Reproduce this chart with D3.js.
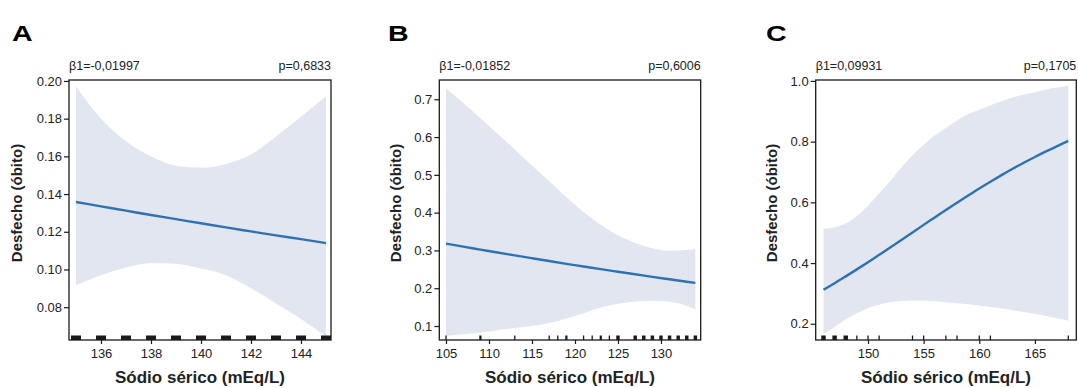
<!DOCTYPE html>
<html>
<head>
<meta charset="utf-8">
<script src="https://cdn.jsdelivr.net/npm/d3@7/dist/d3.min.js"></script>
<style>
  html, body { margin: 0; padding: 0; background: #ffffff; }
  svg { display: block; font-family: "Liberation Sans", Arial, Helvetica, sans-serif; }
</style>
</head>
<body>
<svg id="chart" width="1078" height="388"></svg>
<script>
// ---------------- DATA ----------------
const panelLetters = ["A", "B", "C"];
const betaLabels = ["β1=-0,01997", "β1=-0,01852", "β1=0,09931"];
const pLabels = ["p=0,6833", "p=0,6006", "p=0,1705"];
const xTitle = "Sódio sérico (mEq/L)";
const yTitle = "Desfecho (óbito)";

// Panel A
const sodioA = [135, 136, 137, 138, 139, 140, 141, 142, 143, 144, 145];
const fitA   = [0.1358, 0.1335, 0.1312, 0.1289, 0.1267, 0.1245, 0.1223, 0.1202, 0.1181, 0.1161, 0.1140];
const upperA = [0.197, 0.180, 0.168, 0.160, 0.155, 0.154, 0.156, 0.161, 0.1705, 0.181, 0.1917];
const lowerA = [0.0917, 0.097, 0.101, 0.1035, 0.103, 0.1005, 0.097, 0.090, 0.082, 0.0738, 0.0645];
const xTicksA = [136, 138, 140, 142, 144];
const yTicksA = [0.08, 0.10, 0.12, 0.14, 0.16, 0.18, 0.20];
const rugA = [135, 136, 137, 138, 139, 140, 141, 142, 143, 144, 145];
const rugCountA = [5, 5, 5, 5, 5, 5, 5, 5, 5, 5, 5];

// Panel B
const sodioB = [105, 107, 109, 111, 113, 115, 117, 119, 121, 123, 125, 127, 129, 131, 133, 134];
const fitB   = [0.318, 0.310, 0.3022, 0.2944, 0.2868, 0.2793, 0.2719, 0.2646, 0.2575, 0.2504, 0.2436, 0.2369, 0.2301, 0.2236, 0.2172, 0.2142];
const upperB = [0.729, 0.690, 0.650, 0.609, 0.567, 0.525, 0.483, 0.441, 0.402, 0.368, 0.340, 0.320, 0.306, 0.299, 0.301, 0.305];
const lowerB = [0.0735, 0.078, 0.083, 0.089, 0.095, 0.100, 0.108, 0.120, 0.134, 0.149, 0.159, 0.165, 0.167, 0.164, 0.153, 0.144];
const xTicksB = [105, 110, 115, 120, 125, 130];
const yTicksB = [0.1, 0.2, 0.3, 0.4, 0.5, 0.6, 0.7];
const rugB = [105, 109, 113, 117, 118, 119, 121, 122, 123, 124, 125, 127, 128, 129, 130, 131, 132, 133, 134];
const rugCountB = [1, 2, 1, 1, 1, 2, 1, 1, 2, 1, 3, 3, 3, 3, 3, 3, 3, 3, 3];

// Panel C
const sodioC = [146, 147, 148, 149, 150, 151, 152, 153, 154, 155, 156, 157, 158, 159, 160, 161, 162, 163, 164, 165, 166, 167, 168];
const fitC   = [0.312, 0.3336, 0.3562, 0.3792, 0.4027, 0.427, 0.4514, 0.476, 0.501, 0.5258, 0.5504, 0.575, 0.5988, 0.6225, 0.6457, 0.668, 0.6896, 0.7105, 0.7305, 0.7495, 0.7678, 0.785, 0.8025];
const upperC = [0.513, 0.518, 0.530, 0.555, 0.590, 0.630, 0.670, 0.715, 0.755, 0.790, 0.820, 0.845, 0.870, 0.890, 0.905, 0.920, 0.933, 0.945, 0.955, 0.963, 0.972, 0.978, 0.984];
const lowerC = [0.166, 0.190, 0.215, 0.235, 0.252, 0.263, 0.271, 0.275, 0.277, 0.276, 0.274, 0.271, 0.268, 0.264, 0.260, 0.255, 0.250, 0.245, 0.239, 0.233, 0.226, 0.218, 0.210];
const xTicksC = [150, 155, 160, 165];
const yTicksC = [0.2, 0.4, 0.6, 0.8, 1.0];
const rugC = [146, 147, 148, 149, 150, 151, 154, 155, 157, 158, 160, 161, 168];
const rugCountC = [3, 3, 3, 1, 1, 1, 1, 1, 1, 1, 1, 1, 1];

// ---------------- LAYOUT / STYLE ----------------
const TOP = 80, BOTTOM = 340;
const BAND = "#e2e6f0", LINE = "#2e72b3", INK = "#1a1a1a", TXT = "#222222";

const panels = [
  { left: 69,    right: 331,    xDom: [134.72, 145.2], yDom: [0.0626, 0.2005], fmt: ".2f",
    x: sodioA, fit: fitA, up: upperA, lo: lowerA, xt: xTicksA, yt: yTicksA, rug: rugA, rc: rugCountA,
    letterX: 12, yTitleX: 22 },
  { left: 439.3, right: 700.7,  xDom: [104.22, 134.62], yDom: [0.063, 0.751], fmt: ".1f",
    x: sodioB, fit: fitB, up: upperB, lo: lowerB, xt: xTicksB, yt: yTicksB, rug: rugB, rc: rugCountB,
    letterX: 388, yTitleX: 401 },
  { left: 815.7, right: 1076.3, xDom: [145.3, 168.72],  yDom: [0.1466, 1.003], fmt: ".1f",
    x: sodioC, fit: fitC, up: upperC, lo: lowerC, xt: xTicksC, yt: yTicksC, rug: rugC, rc: rugCountC,
    letterX: 766, yTitleX: 777 }
];

const svg = d3.select("#chart");
svg.append("rect").attr("width", 1078).attr("height", 388).attr("fill", "#fff");

panels.forEach((p, i) => {
  const g = svg.append("g");
  const x = d3.scaleLinear().domain(p.xDom).range([p.left, p.right]);
  const y = d3.scaleLinear().domain(p.yDom).range([BOTTOM, TOP]);
  const rows = p.x.map((v, k) => ({ v, f: p.fit[k], u: p.up[k], l: p.lo[k] }));

  // confidence band
  g.append("path")
    .datum(rows)
    .attr("fill", BAND)
    .attr("d", d3.area().curve(d3.curveMonotoneX)
      .x(d => x(d.v)).y0(d => y(d.l)).y1(d => y(d.u)));

  // fitted line
  g.append("path")
    .datum(rows)
    .attr("fill", "none")
    .attr("stroke", LINE)
    .attr("stroke-width", 2.4)
    .attr("d", d3.line().curve(d3.curveMonotoneX).x(d => x(d.v)).y(d => y(d.f)));

  // rug
  const rugG = g.append("g");
  p.rug.forEach((v, k) => {
    const n = p.rc[k];
    if (n <= 1) {
      rugG.append("line").attr("x1", x(v)).attr("x2", x(v))
        .attr("y1", BOTTOM).attr("y2", BOTTOM - 4.5)
        .attr("stroke", INK).attr("stroke-width", 1.3);
    } else {
      const half = n === 2 ? 0.1 : 0.2;
      const x0 = x(v - half), x1 = x(v + half);
      const w = Math.max(2.2, x1 - x0);
      rugG.append("rect").attr("x", (x0 + x1) / 2 - w / 2).attr("y", BOTTOM - 4.5)
        .attr("width", w).attr("height", 4.5).attr("fill", INK);
    }
  });

  // frame
  g.append("rect")
    .attr("x", p.left).attr("y", TOP)
    .attr("width", p.right - p.left).attr("height", BOTTOM - TOP)
    .attr("fill", "none").attr("stroke", INK).attr("stroke-width", 1.3);

  // axes
  const ya = g.append("g").attr("transform", `translate(${p.left},0)`)
    .call(d3.axisLeft(y).tickValues(p.yt).tickSize(5).tickPadding(2).tickFormat(d3.format(p.fmt)));
  const xa = g.append("g").attr("transform", `translate(0,${BOTTOM})`)
    .call(d3.axisBottom(x).tickValues(p.xt).tickSize(4).tickPadding(5).tickFormat(d3.format("d")));
  [ya, xa].forEach(a => {
    a.select(".domain").remove();
    a.selectAll(".tick line").attr("stroke", INK).attr("stroke-width", 1.2);
    a.selectAll(".tick text").attr("fill", TXT)
      .style("font-size", "13px").style("font-family", '"Liberation Sans", Arial, sans-serif');
  });

  // annotations
  g.append("text").attr("x", p.left).attr("y", 69.5)
    .attr("fill", TXT).style("font-size", "12.5px").text(betaLabels[i]);
  g.append("text").attr("x", p.right).attr("y", 69.5).attr("text-anchor", "end")
    .attr("fill", TXT).style("font-size", "12.5px").text(pLabels[i]);

  // panel letter
  g.append("text")
    .attr("transform", `translate(${p.letterX},41) scale(1.3,1)`)
    .attr("fill", "#000").style("font-size", "22px").style("font-weight", "bold")
    .text(panelLetters[i]);

  // axis titles
  g.append("text").attr("x", (p.left + p.right) / 2).attr("y", 383)
    .attr("text-anchor", "middle").attr("fill", TXT)
    .style("font-size", "17px").style("font-weight", "bold").text(xTitle);
  g.append("text")
    .attr("transform", `translate(${p.yTitleX},203) rotate(-90)`)
    .attr("text-anchor", "middle").attr("fill", TXT)
    .style("font-size", "15px").style("font-weight", "bold").text(yTitle);
});
</script>
</body>
</html>
